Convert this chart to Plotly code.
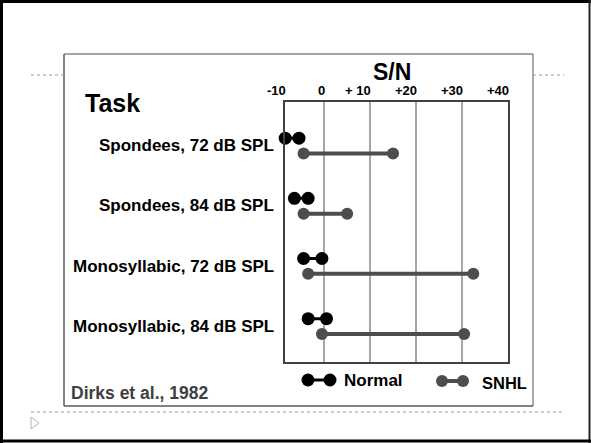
import plotly.graph_objects as go

# Speech reception threshold (S/N, dB) per task, normal vs. SNHL listeners
tasks = [
    "Spondees, 72 dB SPL",
    "Spondees, 84 dB SPL",
    "Monosyllabic, 72 dB SPL",
    "Monosyllabic, 84 dB SPL",
]
normal_low = [-8.5, -6.5, -4.5, -3.5]
normal_high = [-5.5, -3.5, -0.5, 0.5]
snhl_low = [-4.5, -4.5, -3.5, -0.5]
snhl_high = [15, 5, 32.5, 30.5]
tick_values = [-10, 0, 10, 20, 30, 40]
tick_labels = ["-10", "0", "+ 10", "+20", "+30", "+40"]
grid_values = [0, 10, 20, 30]

W, H = 591, 443
FONT = "Liberation Sans, Arial, sans-serif"
NORMAL_COLOR = "#000000"
SNHL_COLOR = "#4d4d4d"

# plot box in pixels and the S/N range it spans
BOX_X0, BOX_X1 = 285, 507.7
X_RANGE = [-8.55, 40]


def px(x):
    return x / W


def py(y):
    return 1 - y / H


def x_to_paper(v):
    """Map an S/N value onto paper coordinates, clamped to the box's left edge."""
    v = max(v, X_RANGE[0])
    frac = (v - X_RANGE[0]) / (X_RANGE[1] - X_RANGE[0])
    return px(BOX_X0 + frac * (BOX_X1 - BOX_X0))


def segments(lows, highs, offset):
    xs, ys = [], []
    for i, (lo, hi) in enumerate(zip(lows, highs)):
        xs += [lo, hi, None]
        ys += [i + offset, i + offset, None]
    return xs, ys


fig = go.Figure()

nx, ny = segments(normal_low, normal_high, -0.125)
sx, sy = segments(snhl_low, snhl_high, 0.13)

fig.add_trace(go.Scatter(
    x=sx, y=sy, mode="lines+markers", name="SNHL", cliponaxis=False,
    line=dict(color=SNHL_COLOR, width=4),
    marker=dict(color=SNHL_COLOR, size=12),
))
fig.add_trace(go.Scatter(
    x=nx, y=ny, mode="lines+markers", name="Normal", cliponaxis=False,
    line=dict(color=NORMAL_COLOR, width=3),
    marker=dict(color=NORMAL_COLOR, size=13),
))

annotations = []
# S/N scale labels along the top of the box
for v, t in zip(tick_values, tick_labels):
    annotations.append(dict(
        x=x_to_paper(v), y=py(90.5), xref="paper", yref="paper",
        text=f"<b>{t}</b>", xanchor="right", yanchor="middle", xshift=3,
        showarrow=False, font=dict(family=FONT, size=13, color="#000"),
    ))
annotations.append(dict(
    x=px(392), y=py(72), xref="paper", yref="paper", text="<b>S/N</b>",
    xanchor="center", yanchor="middle", showarrow=False,
    font=dict(family=FONT, size=23, color="#000"),
))
annotations.append(dict(
    x=px(83), y=py(103), xref="paper", yref="paper", text="<b>Task</b>",
    xanchor="left", yanchor="middle", showarrow=False,
    font=dict(family=FONT, size=25, color="#000"),
))
for i, t in enumerate(tasks):
    annotations.append(dict(
        x=px(276), y=i, xref="paper", yref="y", text=f"<b>{t}</b>",
        xanchor="right", yanchor="middle", showarrow=False,
        font=dict(family=FONT, size=17, color="#000"),
    ))
annotations.append(dict(
    x=px(69), y=py(393), xref="paper", yref="paper",
    text="<b>Dirks et al., 1982</b>", xanchor="left", yanchor="middle",
    showarrow=False, font=dict(family=FONT, size=17.5, color="#404040"),
))
# hand-drawn legend
annotations.append(dict(
    x=px(342), y=py(380), xref="paper", yref="paper", text="<b>Normal</b>",
    xanchor="left", yanchor="middle", showarrow=False,
    font=dict(family=FONT, size=17, color="#000"),
))
annotations.append(dict(
    x=px(480), y=py(383), xref="paper", yref="paper", text="<b>SNHL</b>",
    xanchor="left", yanchor="middle", showarrow=False,
    font=dict(family=FONT, size=16.5, color="#000"),
))

shapes = []


def pline(x0, y0, x1, y1, color, width, dash="solid"):
    shapes.append(dict(type="line", xref="paper", yref="paper",
                       x0=px(x0), y0=py(y0), x1=px(x1), y1=py(y1),
                       line=dict(color=color, width=width, dash=dash)))


def pdot(cx, cy, r, color):
    shapes.append(dict(type="circle", xref="paper", yref="paper",
                       x0=px(cx - r), y0=py(cy - r), x1=px(cx + r), y1=py(cy + r),
                       fillcolor=color, line=dict(width=0)))


# legend glyphs
pline(308, 380, 330, 380, NORMAL_COLOR, 3)
pdot(308, 380, 6.5, NORMAL_COLOR)
pdot(330, 380, 6.5, NORMAL_COLOR)
pline(442, 381, 463, 381, SNHL_COLOR, 4)
pdot(442, 381, 6, SNHL_COLOR)
pdot(463, 381, 6, SNHL_COLOR)

# slide frame
pline(0, 1.5, W, 1.5, "#000", 3)
pline(1.5, 0, 1.5, H, "#000", 3)
pline(W - 1.5, 0, W - 1.5, H, "#222", 2)
pline(0, H - 2, W, H - 2, "#000", 3)

# picture box
pline(64, 54, 533, 54, "#a6a6a6", 2)
pline(64, 54, 64, 406, "#5a5a5a", 1.5)
pline(533, 54, 533, 406, "#8c8c8c", 1.5)
pline(64, 406, 533, 406, "#5a5a5a", 1.5)

# placeholder guides
pline(31, 75, 64, 75, "#9a9a9a", 1, "dot")
pline(533, 75, 564, 75, "#9a9a9a", 1, "dot")
pline(31, 412, 564, 412, "#9a9a9a", 1, "dot")
shapes.append(dict(
    type="path", xref="paper", yref="paper",
    path=f"M {px(31)} {py(417)} L {px(39)} {py(423)} L {px(31)} {py(429)} Z",
    line=dict(color="#b5b5b5", width=1), fillcolor="rgba(0,0,0,0)",
))

fig.update_layout(
    width=W, height=H, autosize=False,
    margin=dict(l=0, r=0, t=0, b=0),
    paper_bgcolor="white", plot_bgcolor="white",
    showlegend=False,
    annotations=annotations, shapes=shapes,
    xaxis=dict(
        domain=[px(BOX_X0), px(BOX_X1)], range=X_RANGE,
        tickvals=grid_values, showticklabels=False, ticks="",
        showgrid=True, gridcolor="#a6a6a6", gridwidth=2,
        zeroline=False, showline=True, mirror=True,
        linecolor="#404040", linewidth=2,
    ),
    yaxis=dict(
        domain=[py(362), py(102)], range=[3.596, -0.727],
        showticklabels=False, ticks="", showgrid=False, zeroline=False,
        showline=True, mirror=True, linecolor="#404040", linewidth=2,
    ),
)

fig.write_html("out.html")
